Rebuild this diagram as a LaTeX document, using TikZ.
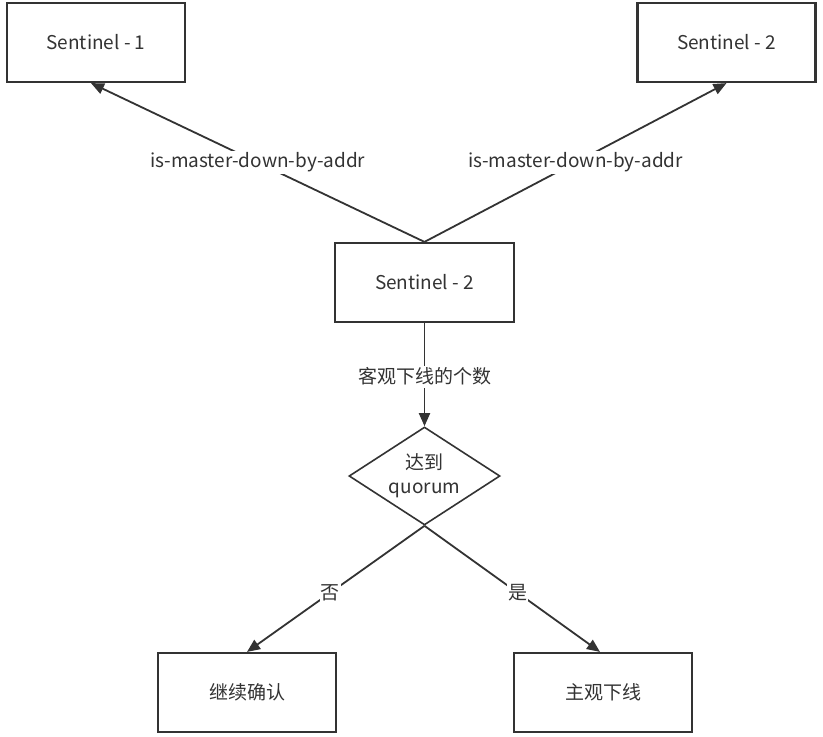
\documentclass[tikz,border=0pt]{standalone}
\usepackage{fontspec}
\setmainfont{Noto Sans CJK SC}
\usetikzlibrary{arrows.meta,shapes.geometric}

\definecolor{ink}{HTML}{333333}

\tikzset{
  box/.style={draw=ink, line width=2.2pt, fill=white, text=ink, minimum width=178pt, minimum height=79pt, inner sep=0pt},
  decide/.style={diamond, draw=ink, line width=1.6pt, fill=white, text=ink, aspect=1.54, minimum width=151pt, minimum height=98pt, inner sep=0pt, align=center},
  link/.style={draw=ink, line width=1.8pt, -{Triangle[length=13pt,width=11pt]}},
  tag/.style={fill=white, text=ink, inner sep=2pt}
}

\begin{document}
\begin{tikzpicture}[x=1pt, y=-1pt, font=\fontsize{19}{24}\selectfont]

\useasboundingbox[fill=white] (0,0) rectangle (823,737);

\node[box] at (96,42.5) (sen1) {Sentinel - 1};
\node[box] at (726.5,42.5) (sen2) {Sentinel - 2};
\node[box, minimum width=179pt] at (424.5,282.5) (sen3) {Sentinel - 2};

\node[decide] at (424.5,476) (quorum) {达到\\quorum};

\node[box] at (247,692.5) (goon) {继续确认};
\node[box] at (603,692.5) (odown) {主观下线};

\draw[link] (sen3.north) -- node[tag, pos=0.5] {is-master-down-by-addr} ([xshift=-5pt]sen1.south);
\draw[link] (sen3.north) -- node[tag, pos=0.5] {is-master-down-by-addr} (sen2.south);

\draw[link] (sen3.south) -- node[tag, pos=0.52] {客观下线的个数} (quorum.north);

\draw[link] (quorum.south) -- node[tag, pos=0.53, inner sep=1pt] {否} (goon.north);
\draw[link] (quorum.south) -- node[tag, pos=0.53, inner sep=1pt] {是} ([xshift=-3pt]odown.north);

\end{tikzpicture}
\end{document}
